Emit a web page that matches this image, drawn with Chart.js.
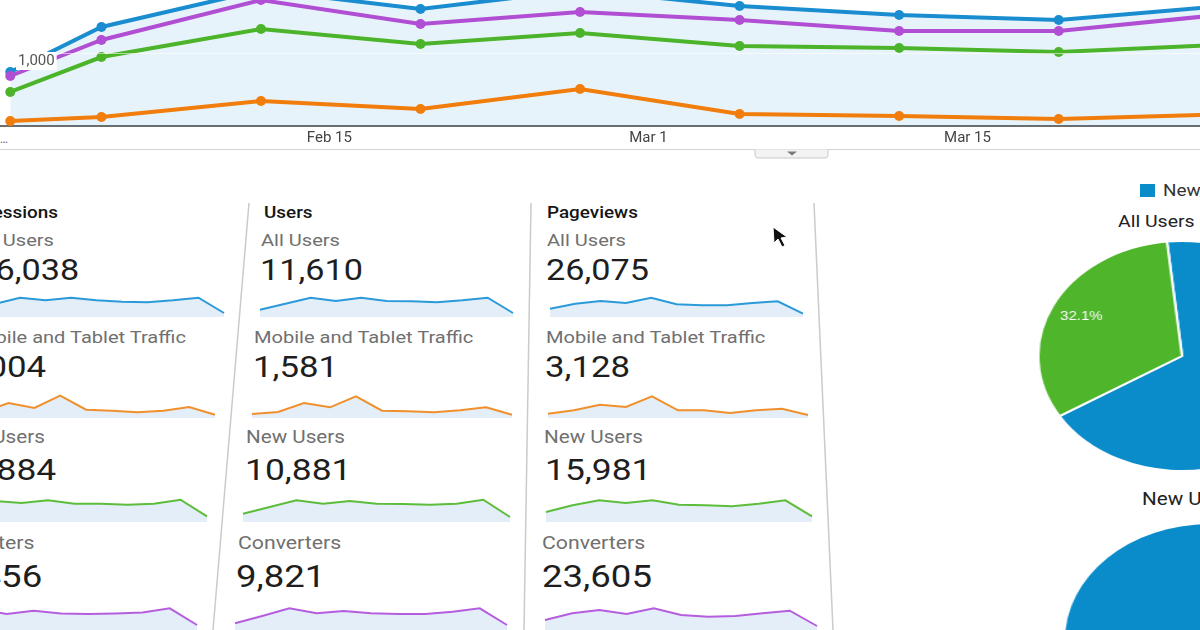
<!DOCTYPE html>
<html><head><meta charset="utf-8">
<script src="https://cdn.jsdelivr.net/npm/chart.js@4/dist/chart.umd.min.js"></script>
<style>
html,body{margin:0;padding:0;background:#fff;}
body{width:1200px;height:630px;overflow:hidden;position:relative;font-family:Roboto,Arial,sans-serif;}
canvas{position:absolute;display:block;}
.txt{position:absolute;white-space:nowrap;line-height:1.2;}
</style></head><body>
<svg width="1200" height="630" style="position:absolute;left:0;top:0" id="deco">
  <line x1="0" y1="149.5" x2="1200" y2="149.5" stroke="#d4d4d4" stroke-width="1"/>
  <path d="M755 149.5 L755 155 Q755 158 758 158 L825 158 Q828 158 828 155 L828 149.5" fill="#f3f3f3" stroke="#c9c9c9" stroke-width="1"/>
  <polygon points="787,151.5 797,151.5 792,155.5" fill="#7a7a7a"/>
  <line x1="249" y1="203" x2="213" y2="630" stroke="#cbcbcb" stroke-width="1.5"/>
  <line x1="531" y1="203" x2="524" y2="630" stroke="#cbcbcb" stroke-width="1.5"/>
  <line x1="814" y1="203" x2="833" y2="630" stroke="#cbcbcb" stroke-width="1.5"/>
  <rect x="1140" y="184" width="15" height="13" fill="#0a8ccb"/>
  <polygon points="773,227 774,243 778,239 782,247 785,245.5 781,238 787,237" fill="#111" stroke="#fff" stroke-width="1"/>
</svg>
<div class="txt" style="left:0;top:132px;font-size:12px;color:#666">…</div>
<script>
// ---------- DATA ----------
const mainDays = [0, 4, 11, 18, 25, 32, 39, 46, 53];
const mainTickDays = [14, 28, 42];
const mainTickLabels = ['Feb 15', 'Mar 1', 'Mar 15'];
const yTickValues = [1000];
const allUsersSeries   = [740, 1356, 1863, 1603, 1863, 1644, 1521, 1452, 1638];
const convertersSeries = [685, 1178, 1726, 1397, 1562, 1452, 1301, 1301, 1520];
const newUsersSeries   = [466, 945, 1329, 1123, 1274, 1096, 1068, 1014, 1110];
const mobileSeries     = [68, 123, 342, 233, 507, 164, 137, 96, 158];

const columnHeaders = ['Sessions', 'Users', 'Pageviews'];
const segmentNames = ['All Users', 'Mobile and Tablet Traffic', 'New Users', 'Converters'];
const totalsSessions  = ['16,038', '2,004', '11,884', '10,456'];
const totalsUsers     = ['11,610', '1,581', '10,881', '9,821'];
const totalsPageviews = ['26,075', '3,128', '15,981', '23,605'];

const sparkSessionsAll    = [7, 13, 19.3, 16.7, 19.3, 16.7, 15.3, 14.7, 16.7, 19.3, 4];
const sparkSessionsMobile = [4, 6, 15, 10, 22.3, 8.3, 7.3, 5.7, 7.3, 11, 3.3];
const sparkSessionsNew    = [8, 15, 21, 19, 21.7, 18.3, 18.3, 17.3, 18.3, 22.3, 5.7];
const sparkSessionsConv   = [7, 14, 21, 16, 19.3, 16.5, 16, 16.5, 17.5, 21.7, 5];
const sparkUsersAll       = [7.3, 13.3, 19.3, 16, 19.3, 16, 15.7, 14.7, 16.7, 19.3, 4];
const sparkUsersMobile    = [4, 6, 15, 10.7, 21.7, 7.3, 6.7, 5.7, 7.7, 10.7, 3.3];
const sparkUsersNew       = [8.3, 15, 21.7, 18.3, 21, 18.3, 18, 17.3, 18.3, 22.3, 5];
const sparkUsersConv      = [6.7, 14, 21.7, 16.7, 19, 16.7, 16, 16, 18.3, 21.7, 5];
const sparkPageviewsAll    = [8.3, 13.3, 16, 14, 19.3, 12.7, 11.7, 11.7, 14, 15.7, 3.3];
const sparkPageviewsMobile = [4.3, 7.7, 13.3, 11, 21.7, 7.7, 7.7, 5, 7.7, 9.3, 3];
const sparkPageviewsNew    = [10, 16.7, 21.7, 19, 21.7, 17.3, 16.7, 15.7, 18.3, 21.7, 5.7];
const sparkPageviewsConv   = [10, 16.7, 20, 16, 21.7, 15, 13.3, 14, 16.7, 19.3, 4];

const pieLegendLabels = ['New Visitor', 'Returning Visitor'];
const pieTitles = ['All Users', 'New Users'];
const pieAllUsers = [67.9, 32.1];
const pieNewUsers = [100, 0];

// ---------- STYLE ----------
const C = {blue:'#1a8dd0', purple:'#b04fd3', green:'#4cb42a', orange:'#f07d0c'};
const SC = {blue:'#2a9ad8', orange:'#f0902c', green:'#5cbd3a', purple:'#b45ede'};
Chart.defaults.font.family = 'Roboto, Arial, sans-serif';

// ---------- MAIN CHART ----------
(function(){
  const c = document.createElement('canvas');
  c.width = 1200; c.height = 186;
  c.style.left = '0px'; c.style.top = '-20px';
  document.body.appendChild(c);
  const mk = (d, col, fill) => ({
    data: mainDays.map((x, i) => ({x, y: d[i]})),
    borderColor: col, backgroundColor: fill ? 'rgba(5,125,199,0.095)' : col,
    pointBackgroundColor: col, pointBorderWidth: 0, pointRadius: 5,
    borderWidth: 4, fill: fill ? 'origin' : false, tension: 0
  });
  new Chart(c, {
    type: 'line',
    data: {datasets: [mk(mobileSeries, C.orange), mk(newUsersSeries, C.green),
                      mk(convertersSeries, C.purple), mk(allUsersSeries, C.blue, true)]},
    options: {
      responsive: false, animation: false,
      layout: {padding: 0, autoPadding: false},
      plugins: {legend: {display: false}, tooltip: {enabled: false}, filler: {drawTime: 'beforeDatasetsDraw'}},
      scales: {
        x: {
          type: 'linear', min: -0.45, max: 52.2,
          afterFit: s => { s.height = 40; s.paddingLeft = 0; s.paddingRight = 0; },
          afterBuildTicks: s => { s.ticks = mainTickDays.map(v => ({value: v})); },
          ticks: {padding: 3, color: '#444', font: {size: 15}, maxRotation: 0,
                  callback: v => mainTickLabels[mainTickDays.indexOf(v)]},
          grid: {display: false, drawTicks: false},
          border: {display: true, color: '#6e6e6e', width: 2}
        },
        y: {
          min: 0, max: 2000,
          afterFit: s => { s.width = 0; s.paddingTop = 0; s.paddingBottom = 0; },
          afterBuildTicks: s => { s.ticks = yTickValues.map(v => ({value: v})); },
          ticks: {z: 1, mirror: true, padding: 18, labelOffset: 8, color: '#555', font: {size: 15},
                  showLabelBackdrop: true, backdropColor: '#ffffff', backdropPadding: {top: 0, bottom: 0, left: 2, right: 2},
                  callback: v => v.toLocaleString('en-US')},
          grid: {z: 1, color: 'rgba(255,255,255,0.55)', drawTicks: false},
          border: {display: false}
        }
      }
    }
  });
})();

// ---------- TEXT ----------
function addText(str, x, y, size, color, weight, alignRight) {
  const d = document.createElement('div');
  d.className = 'txt';
  d.textContent = str;
  d.style.fontSize = size + 'px';
  d.style.color = color;
  d.style.fontWeight = weight || 400;
  d.style.top = (y - size * 0.6) + 'px';
  if (alignRight) { d.style.right = (1200 - x) + 'px'; d.style.transformOrigin = 'right center'; }
  else { d.style.left = x + 'px'; d.style.transformOrigin = 'left center'; }
  d.style.transform = 'scaleX(1.18)';
  document.body.appendChild(d);
}
const headerY = 213, labelYs = [240, 337, 437, 543], numYs = [270, 368, 470, 577];
const labelSizes = [17, 17, 17.5, 18], numSizes = [29, 29.5, 30, 31];
const cols = [
  {totals: totalsSessions, right: true, hx: 58, lx: [54, 186, 45, 34], nx: [79, 46, 56, 42]},
  {totals: totalsUsers, right: false, hx: 264, lx: [261, 254, 246, 238], nx: [260, 253, 245, 236]},
  {totals: totalsPageviews, right: false, hx: 547, lx: [547, 546, 544, 542], nx: [546, 545, 545, 542]}
];
cols.forEach((col, ci) => {
  addText(columnHeaders[ci], col.hx, headerY, 16, '#151515', 500, col.right);
  segmentNames.forEach((name, ri) => {
    addText(name, col.lx[ri], labelYs[ri], labelSizes[ri], '#707070', 400, col.right);
    addText(col.totals[ri], col.nx[ri], numYs[ri], numSizes[ri], '#1e1e1e', 400, col.right);
  });
});

// ---------- SPARKLINES ----------
function spark(data, color, x0, x1, base) {
  const pad = 2, H = 25;
  const c = document.createElement('canvas');
  c.width = x1 - x0 + 2 * pad; c.height = H + pad;
  c.style.left = (x0 - pad) + 'px'; c.style.top = (base - H - pad) + 'px';
  document.body.appendChild(c);
  new Chart(c, {
    type: 'line',
    data: {labels: data.map((_, i) => i),
           datasets: [{data, borderColor: color, borderWidth: 2, pointRadius: 0, tension: 0,
                       fill: 'origin', backgroundColor: '#e4eef8'}]},
    options: {responsive: false, animation: false,
      layout: {padding: {left: pad, right: pad, top: pad, bottom: 0}},
      plugins: {legend: {display: false}, tooltip: {enabled: false}},
      scales: {x: {display: false}, y: {display: false, min: 0, max: H}}}
  });
}
const sparkSets = [
  [sparkSessionsAll, sparkSessionsMobile, sparkSessionsNew, sparkSessionsConv],
  [sparkUsersAll, sparkUsersMobile, sparkUsersNew, sparkUsersConv],
  [sparkPageviewsAll, sparkPageviewsMobile, sparkPageviewsNew, sparkPageviewsConv]
];
const sparkBoxes = [
  [[-31, 224, 317], [-43, 215, 418], [-58, 207, 522], [-75, 197, 630]],
  [[260, 513, 317], [252, 512, 418], [243, 510, 522], [235, 507, 630]],
  [[550, 803, 317], [548, 808, 418], [546, 812, 522], [545, 817, 630]]
];
const sparkColors = [SC.blue, SC.orange, SC.green, SC.purple];
sparkSets.forEach((set, ci) => set.forEach((d, ri) => {
  const b = sparkBoxes[ci][ri];
  spark(d, sparkColors[ri], b[0], b[1], b[2]);
}));

// ---------- PIES ----------
addText(pieLegendLabels[0], 1163, 191, 16, '#333', 400, false);
addText(pieTitles[0], 1118, 222, 16.5, '#222', 400, false);
addText(pieTitles[1], 1142, 499, 17.5, '#222', 400, false);
const sliceLabels = {
  id: 'sliceLabels',
  afterDatasetsDraw(chart) {
    const ctx = chart.ctx, ds = chart.data.datasets[0];
    const total = ds.data.reduce((a, b) => a + b, 0);
    chart.getDatasetMeta(0).data.forEach((arc, i) => {
      const v = ds.data[i];
      if (!v || v === total) return;
      const p = arc.getProps(['x', 'y', 'startAngle', 'endAngle', 'outerRadius']);
      const a = (p.startAngle + p.endAngle) / 2, r = p.outerRadius * 0.78;
      ctx.save();
      ctx.fillStyle = '#fff'; ctx.font = '12px Arial, sans-serif';
      ctx.textAlign = 'center'; ctx.textBaseline = 'middle';
      ctx.fillText((v / total * 100).toFixed(1) + '%', p.x + Math.cos(a) * r, p.y + Math.sin(a) * r);
      ctx.restore();
    });
  }
};
function pie(data, cx, cy, bw) {
  const S = 232;
  const c = document.createElement('canvas');
  c.width = S; c.height = S;
  c.style.left = (cx - S / 2) + 'px'; c.style.top = (cy - S / 2) + 'px';
  c.style.transform = 'scaleX(1.25)'; c.style.transformOrigin = 'center center';
  document.body.appendChild(c);
  new Chart(c, {
    type: 'pie',
    data: {labels: pieLegendLabels, datasets: [{data, backgroundColor: ['#0a8ccb', '#4fb52b'],
           borderColor: '#fff', borderWidth: bw}]},
    options: {responsive: false, animation: false, rotation: -6,
      layout: {padding: 0},
      plugins: {legend: {display: false}, tooltip: {enabled: false}}},
    plugins: [sliceLabels]
  });
}
pie(pieAllUsers, 1182, 356, 2);
pie(pieNewUsers, 1210, 640, 0);
</script>
</body></html>
